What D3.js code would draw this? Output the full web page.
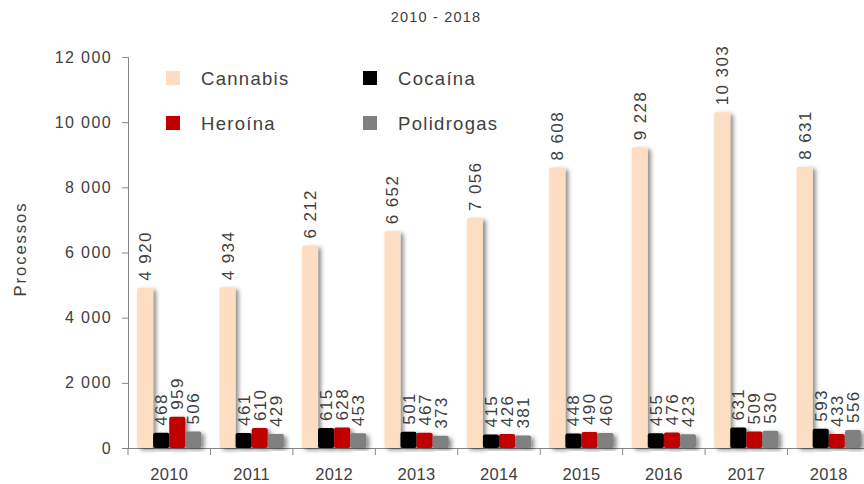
<!DOCTYPE html>
<html>
<head>
<meta charset="utf-8">
<script src="https://cdn.jsdelivr.net/npm/d3@7"></script>
<style>
  body { margin: 0; background: #fff; }
  text { font-family: "Liberation Sans", Arial, sans-serif; fill: #404040; }
</style>
</head>
<body>
<div id="chart"></div>
<script>
const WIDTH = 864;
const HEIGHT = 484;

const years = ["2010", "2011", "2012", "2013", "2014", "2015", "2016", "2017", "2018"];
const series = ["Cannabis", "Cocaína", "Heroína", "Polidrogas"];
const cannabis = [4920, 4934, 6212, 6652, 7056, 8608, 9228, 10303, 8631];
const cocaina = [468, 461, 615, 501, 415, 448, 455, 631, 593];
const heroina = [959, 610, 628, 467, 426, 490, 476, 509, 433];
const polidrogas = [506, 429, 453, 373, 381, 460, 423, 530, 556];
const yTicks = [0, 2000, 4000, 6000, 8000, 10000, 12000];
const colors = ["#FDDEC2", "#000000", "#C00000", "#808080"];

const values = [cannabis, cocaina, heroina, polidrogas];
const rows = years.map((y, i) => ({ year: y, vals: series.map((s, k) => ({ key: s, k: k, v: values[k][i] })) }));

const fmt = v => d3.format(",")(v).replace(/,/g, " ");

const svg = d3.select("#chart").append("svg")
  .attr("width", WIDTH)
  .attr("height", HEIGHT);

const defs = svg.append("defs");
const filt = defs.append("filter").attr("id", "shadow")
  .attr("x", "-50%").attr("y", "-10%").attr("width", "200%").attr("height", "130%");
filt.append("feDropShadow")
  .attr("dx", 3).attr("dy", 2).attr("stdDeviation", 2)
  .attr("flood-color", "#000").attr("flood-opacity", 0.45);

const x = d3.scaleBand()
  .domain(years)
  .range([128, 870])
  .paddingInner(0.22)
  .paddingOuter(0.11);

const xSub = d3.scaleBand()
  .domain(series)
  .range([0, x.bandwidth()]);

const y = d3.scaleLinear()
  .domain([0, 12000])
  .range([448, 57]);

// title
svg.append("text")
  .attr("x", 436).attr("y", 22)
  .attr("text-anchor", "middle")
  .attr("font-size", 14.5)
  .attr("letter-spacing", 1.2)
  .text("2010 - 2018");

// y axis
const yAxis = svg.append("g")
  .attr("transform", "translate(128,0)")
  .call(d3.axisLeft(y).tickValues(yTicks).tickFormat(fmt).tickSize(6).tickPadding(10));
yAxis.select(".domain").attr("stroke", "#868686");
yAxis.selectAll(".tick line").attr("stroke", "#868686");
yAxis.selectAll(".tick text")
  .attr("font-size", 16)
  .attr("letter-spacing", 1.4)
  .attr("fill", "#262626")
  .attr("font-family", "'Liberation Sans', Arial, sans-serif");

svg.append("text")
  .attr("transform", "translate(26,249) rotate(-90)")
  .attr("text-anchor", "middle")
  .attr("font-size", 16.5)
  .attr("letter-spacing", 2)
  .text("Processos");

// x axis
const step = x.step();
const xAxisG = svg.append("g");
xAxisG.append("line")
  .attr("x1", 128).attr("x2", 870).attr("y1", 448.5).attr("y2", 448.5)
  .attr("stroke", "#868686");
xAxisG.selectAll("line.tk")
  .data(years)
  .join("line")
  .attr("class", "tk")
  .attr("x1", d => x(d) - x.paddingInner() * step / 2)
  .attr("x2", d => x(d) - x.paddingInner() * step / 2)
  .attr("y1", 448).attr("y2", 455)
  .attr("stroke", "#868686");
xAxisG.selectAll("text")
  .data(years)
  .join("text")
  .attr("x", d => x(d) + x.bandwidth() / 2)
  .attr("y", 480)
  .attr("text-anchor", "middle")
  .attr("font-size", 16.5)
  .attr("letter-spacing", 0.3)
  .attr("fill", "#262626")
  .text(d => d);

// bars
const groups = svg.append("g").selectAll("g")
  .data(rows)
  .join("g")
  .attr("transform", d => `translate(${x(d.year)},0)`);

groups.selectAll("rect")
  .data(d => d.vals)
  .join("rect")
  .attr("x", d => xSub(d.key))
  .attr("y", d => y(d.v))
  .attr("width", xSub.bandwidth())
  .attr("height", d => y(0) - y(d.v))
  .attr("rx", 2)
  .attr("fill", d => colors[d.k])
  .attr("filter", "url(#shadow)");

groups.selectAll("text")
  .data(d => d.vals)
  .join("text")
  .attr("transform", d => `translate(${xSub(d.key) + xSub.bandwidth() / 2 + 6},${y(d.v) - 7}) rotate(-90)`)
  .attr("font-size", 17)
  .attr("letter-spacing", 1.4)
  .attr("fill", "#262626")
  .text(d => fmt(d.v));

// legend
const legend = svg.append("g");
const legPos = [[166, 78], [363, 78], [166, 123], [363, 123]];
series.forEach((s, k) => {
  const g = legend.append("g").attr("transform", `translate(${legPos[k][0]},${legPos[k][1]})`);
  g.append("rect").attr("x", 0).attr("y", -7).attr("width", 14).attr("height", 14).attr("fill", colors[k]);
  g.append("text").attr("x", 35).attr("y", 7).attr("font-size", 18.5)
    .attr("letter-spacing", 1.3).attr("fill", "#262626").text(s);
});
</script>
</body>
</html>
